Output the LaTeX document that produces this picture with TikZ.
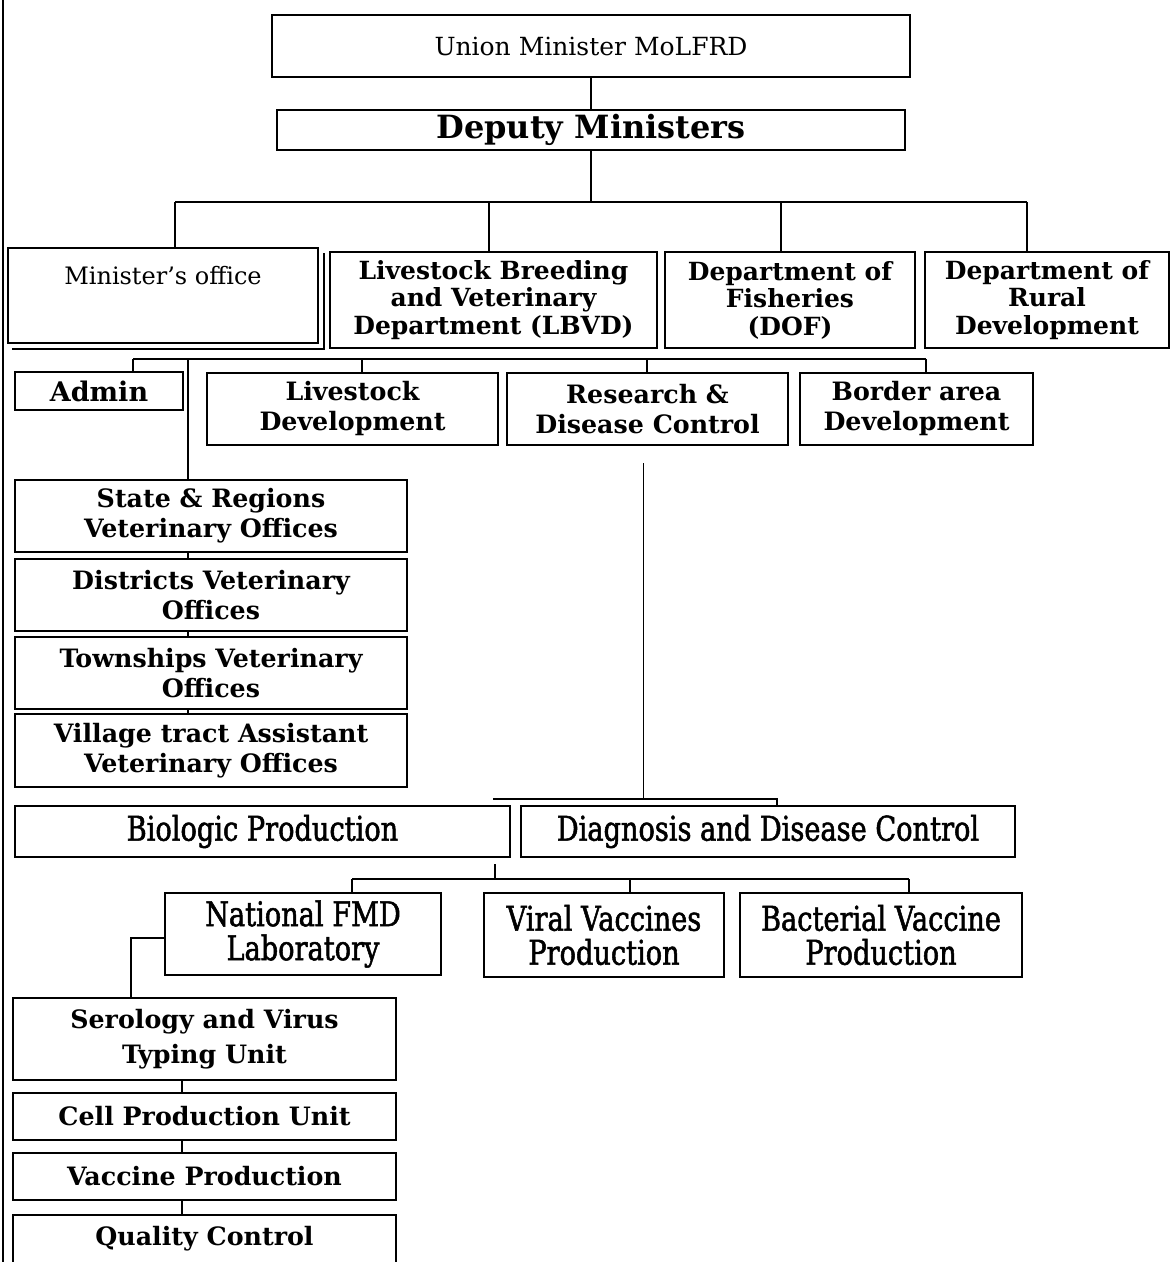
\documentclass[tikz,border=0pt]{standalone}
\usepackage{fontspec}
\setmainfont{DejaVu Serif}
\newfontfamily\condfont[FakeStretch=0.8, FakeBold=1.5]{DejaVu Serif}
\usetikzlibrary{calc}
\begin{document}
\begin{tikzpicture}[x=1pt,y=-1pt,
  box/.style={draw, line width=1.8pt, inner sep=0pt, align=center, fill=white,
    font=\bfseries\fontsize{25.3}{30}\selectfont},
  dept/.style={box, font=\bfseries\fontsize{25}{27.5}\selectfont},
  condbox/.style={box, font=\condfont\fontsize{34}{34}\selectfont},
  conn/.style={line width=1.6pt},
  thinconn/.style={line width=1pt}]
\useasboundingbox (0,0) rectangle (1171,1262);
\draw[line width=2.5pt] (3,0) -- (3,1262);

% top
\node[box, minimum width=638, minimum height=62, font=\fontsize{25}{28}\selectfont] (union) at (591,46) {Union Minister MoLFRD};
\node[box, line width=2.6pt, minimum width=628, minimum height=40, font=\bfseries\fontsize{32}{34}\selectfont] (deputy) at (591,130) {Deputy Ministers};

% level 2
\node[box, minimum width=310, minimum height=95,
  label={[font=\fontsize{24}{28}\selectfont, anchor=north, yshift=-16pt]north:Minister’s office}] (minoff) at (163,295.5) {};
\node[dept, minimum width=327, minimum height=96] (lbvd) at (493.5,300) {Livestock Breeding\\and Veterinary\\Department (LBVD)};
\node[dept, minimum width=250, minimum height=96] (dof) at (790,300) {Department of\\Fisheries\\(DOF)};
\node[dept, minimum width=244, minimum height=96] (rural) at (1047,300) {Department of\\Rural\\Development};
\draw[line width=1.2pt] ($(minoff.north east)+(5,6)$) -- ($(minoff.south east)+(5,5)$) -- ($(minoff.south west)+(5,5)$);

\coordinate (b1) at (591,202);
\coordinate (b1L) at (175,202);
\coordinate (b1a) at (489,202);
\coordinate (b1b) at (781,202);
\coordinate (b1R) at (1027,202);
\draw[conn] (union.south) -- (deputy.north);
\draw[conn] (deputy.south) -- (b1);
\draw[conn] (b1L) -- (b1R);
\draw[conn] (b1L) -- (b1L |- minoff.north);
\draw[conn] (b1a) -- (b1a |- lbvd.north);
\draw[conn] (b1b) -- (b1b |- dof.north);
\draw[conn] (b1R) -- (b1R |- rural.north);

% level 3
\node[box, minimum width=168, minimum height=38, font=\bfseries\fontsize{27}{30}\selectfont] (admin) at (99,391) {Admin};
\node[box, minimum width=291, minimum height=72] (livdev) at (352.5,409) {Livestock\\Development};
\node[box, minimum width=281, minimum height=72] (research) at (647.5,409) {Research \&\\Disease Control};
\node[box, minimum width=233, minimum height=72] (border) at (916.5,409) {Border area\\Development};

\coordinate (b2L) at (133,359);
\coordinate (b2c) at (188,359);
\coordinate (b2a) at (362,359);
\coordinate (b2b) at (647,359);
\coordinate (b2R) at (926,359);
\draw[conn] (b2L) -- (b2R);
\draw[conn] (b2L) -- (b2L |- admin.north);
\draw[conn] (b2a) -- (b2a |- livdev.north);
\draw[conn] (b2b) -- (b2b |- research.north);
\draw[conn] (b2R) -- (b2R |- border.north);

% left column
\node[box, minimum width=392, minimum height=72] (state) at (211,516) {State \& Regions\\Veterinary Offices};
\node[box, minimum width=392, minimum height=72] (district) at (211,595) {Districts Veterinary\\Offices};
\node[box, minimum width=392, minimum height=72] (township) at (211,673) {Townships Veterinary\\Offices};
\node[box, minimum width=392, minimum height=73] (village) at (211,750.5) {Village tract Assistant\\Veterinary Offices};
\draw[conn] (b2c) -- (b2c |- state.north);
\draw[conn] (b2c |- state.south) -- (b2c |- district.north);
\draw[conn] (b2c |- district.south) -- (b2c |- township.north);
\draw[conn] (b2c |- township.south) -- (b2c |- village.north);

% research branch
\node[condbox, minimum width=495, minimum height=51] (biologic) at (262.5,831.5) {Biologic Production};
\node[condbox, minimum width=494, minimum height=51] (diag) at (768,831.5) {Diagnosis and Disease Control};
\coordinate (rtop) at (643,463);
\coordinate (b3) at (643,799);
\coordinate (b3L) at (493,799);
\coordinate (b3R) at (777,799);
\draw[thinconn] (rtop) -- (b3);
\draw[conn] (b3L) -- (b3R) -- (b3R |- diag.north);

% production units
\node[condbox, minimum width=276, minimum height=82] (fmd) at (303,934) {National FMD\\Laboratory};
\node[condbox, minimum width=240, minimum height=84] (viral) at (604,935) {Viral Vaccines\\Production};
\node[condbox, minimum width=282, minimum height=84] (bact) at (881,935) {Bacterial Vaccine\\Production};
\coordinate (b4L) at (352,879);
\coordinate (b4c) at (495,879);
\coordinate (b4v) at (630,879);
\coordinate (b4R) at (909,879);
\draw[conn] (b4L) -- (b4R);
\draw[conn] (b4c) -- ($(b4c |- biologic.south)+(0,6)$);
\draw[conn] (b4L) -- (b4L |- fmd.north);
\draw[conn] (b4v) -- (b4v |- viral.north);
\draw[conn] (b4R) -- (b4R |- bact.north);

% FMD column
\node[box, minimum width=383, minimum height=82, font=\bfseries\fontsize{25.3}{35}\selectfont] (sero) at (204.5,1039) {Serology and Virus\\Typing Unit};
\node[box, minimum width=383, minimum height=47] (cell) at (204.5,1116.5) {Cell Production Unit};
\node[box, minimum width=383, minimum height=47] (vacc) at (204.5,1176.5) {Vaccine Production};
\node[box, minimum width=383, minimum height=48] (qual) at (204.5,1239) {Quality Control};
\coordinate (fL) at (131,938);
\coordinate (fc) at (182,1000);
\draw[conn] (fmd.west |- fL) -- (fL) -- (fL |- sero.north);
\draw[conn] (fc |- sero.south) -- (fc |- cell.north);
\draw[conn] (fc |- cell.south) -- (fc |- vacc.north);
\draw[conn] (fc |- vacc.south) -- (fc |- qual.north);
\end{tikzpicture}
\end{document}
